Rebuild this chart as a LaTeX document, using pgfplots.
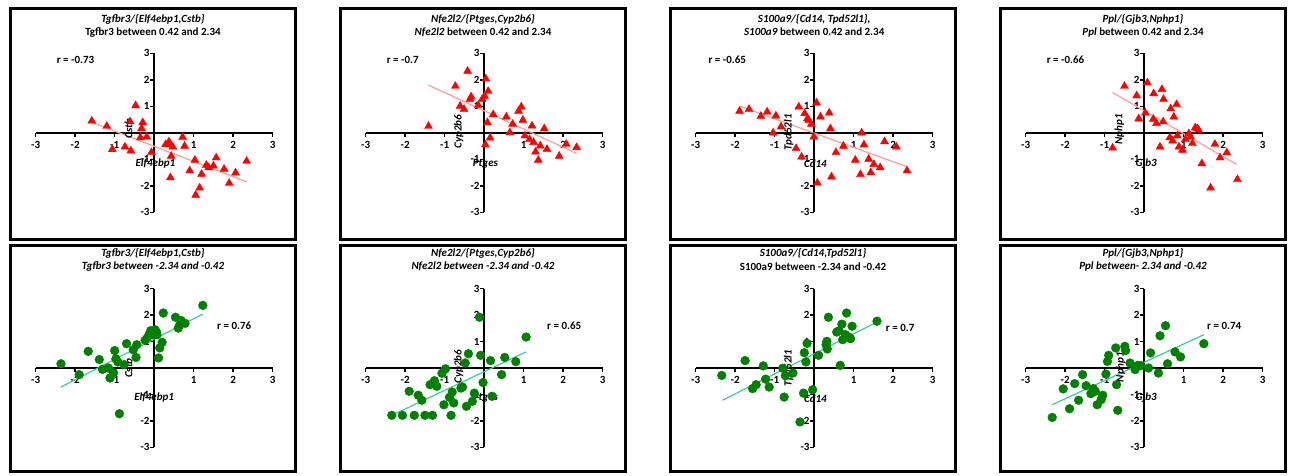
\documentclass[border=0pt]{standalone}
\usepackage{pgfplots}
\pgfplotsset{compat=1.18}
\usepackage{fontspec}
\setmainfont{Carlito}
\definecolor{tri}{RGB}{255,0,0}
\definecolor{pinkline}{RGB}{255,160,160}
\definecolor{dot}{RGB}{0,128,0}
\definecolor{tealline}{RGB}{60,205,155}
\newcommand\fs{\fontsize{11}{13}\selectfont\bfseries}
\pgfplotsset{
 panel/.style={
  scale only axis, width=237pt, anchor=south west,
  xmin=-3,xmax=3,ymin=-3,ymax=3,
  axis lines=center, axis line style={-, line width=1.8pt, black},
  xtick={-3,-2,-1,1,2,3}, ytick={-3,-2,-1,1,2,3},
  xticklabels={-3,-2,-1,1,2,3}, yticklabels={-3,-2,-1,1,2,3},
  tick align=outside, major tick length=4pt,
  tick style={line width=1.5pt, black},
  tick label style={font=\fs},
  yticklabel style={inner xsep=0.5pt},
  xticklabel style={inner ysep=1pt, yshift=-3pt},
  clip=false,
 },
 toprow/.style={panel, height=159pt},
 botrow/.style={panel, height=158.6pt},
 tri/.style={only marks, mark=triangle*, mark size=4.6pt, color=tri},
 dot/.style={only marks, mark=*, mark size=4.4pt, color=dot},
 pfit/.style={no marks, pinkline, line width=1.3pt},
 tfit/.style={no marks, tealline, line width=1.2pt},
}
\begin{document}
\begin{tikzpicture}
\useasboundingbox (0,0) rectangle (1289pt,475pt);
% ---------------- Panel 1 ----------------
\begin{axis}[toprow, at={(35.7pt,262.7pt)}]
\addplot[tri] coordinates {(-1.58,0.45) (-1.20,0.25) (-1.06,-0.63) (-0.74,-0.53) (-0.61,0.42) (-0.59,-0.68) (-0.47,1.03) (-0.32,0.16) (-0.29,0.39) (-0.35,-0.18) (-0.19,-0.15) (-0.07,-0.74) (0.29,-0.44) (0.37,-0.34) (0.41,-0.43) (0.47,-0.53) (0.43,-0.88) (0.41,-1.69) (0.72,-0.16) (0.77,-0.50) (1.03,-1.03) (0.90,-1.43) (1.20,-1.56) (1.15,-2.08) (1.05,-2.35) (1.32,-1.22) (1.38,-1.31) (1.50,-1.25) (1.57,-0.94) (1.77,-1.37) (1.90,-1.90) (2.06,-1.51) (2.34,-1.07)};
\addplot[pfit] coordinates {(-1.62,0.42) (2.34,-1.85)};
\node[font=\fs\itshape] at (axis cs:-0.03,4.29) {Tgfbr3/\{Elf4ebp1,Cstb\}};
\node[font=\fs] at (axis cs:-0.03,3.80) {Tgfbr3 between 0.42 and 2.34};
\node[font=\fs, anchor=west, inner sep=0pt] at (axis cs:-2.47,2.74) {r = -0.73};
\node[font=\fs\itshape] at (axis cs:0.03,-1.17) {Elf4ebp1};
\node[font=\fs\itshape, rotate=90] at (axis cs:-0.65,0.15) {Cstb};
\end{axis}
% ---------------- Panel 2 ----------------
\begin{axis}[toprow, at={(365.7pt,262.7pt)}]
\addplot[tri] coordinates {(-1.41,0.25) (-0.73,1.76) (-0.42,2.33) (-0.61,1.01) (-0.51,0.89) (-0.36,1.27) (-0.33,1.36) (-0.15,1.04) (-0.05,1.27) (0.01,1.38) (0.04,2.04) (0.10,1.57) (0.08,0.39) (0.03,-0.45) (0.15,-0.19) (0.23,0.69) (0.56,0.60) (0.65,0.01) (0.72,0.33) (0.87,0.82) (0.94,0.98) (0.98,0.48) (1.03,-0.11) (1.15,-0.25) (1.21,0.26) (1.25,-0.36) (1.30,-0.72) (1.37,-1.03) (1.42,-0.49) (1.52,0.16) (1.59,-0.62) (1.90,-0.88) (2.08,-0.43) (2.34,-0.55)};
\addplot[pfit] coordinates {(-1.41,1.80) (2.34,-0.78)};
\node[font=\fs\itshape] at (axis cs:-0.03,4.29) {Nfe2l2/\{Ptges,Cyp2b6\}};
\node[font=\fs] at (axis cs:-0.03,3.80) {\textit{Nfe2l2} between 0.42 and 2.34};
\node[font=\fs, anchor=west, inner sep=0pt] at (axis cs:-2.47,2.74) {r = -0.7};
\node[font=\fs\itshape] at (axis cs:0.03,-1.17) {Ptges};
\node[font=\fs\itshape, rotate=90] at (axis cs:-0.65,0.04) {Cyp2b6};
\end{axis}
% ---------------- Panel 3 ----------------
\begin{axis}[toprow, at={(695.7pt,262.7pt)}]
\addplot[tri] coordinates {(-1.89,0.82) (-1.65,0.89) (-1.35,0.63) (-1.19,0.79) (-0.97,0.64) (-1.04,0.00) (-0.84,0.23) (-0.39,0.98) (-0.24,0.73) (-0.17,0.54) (-0.14,0.48) (-0.07,0.33) (0.06,1.13) (0.16,0.60) (0.38,0.75) (0.41,0.16) (-0.01,-0.15) (-0.46,-0.59) (-0.32,-0.91) (0.08,-1.89) (0.44,-1.66) (0.55,-0.74) (0.74,-0.50) (1.04,-1.03) (1.17,-1.57) (1.20,0.00) (1.26,-0.45) (1.38,-0.99) (1.43,-1.50) (1.51,-1.19) (1.67,-1.31) (1.78,-0.33) (2.08,-0.53) (2.35,-1.43)};
\addplot[pfit] coordinates {(-1.89,1.01) (2.35,-1.28)};
\node[font=\fs\itshape] at (axis cs:0,4.29) {S100a9/\{Cd14, Tpd52l1\},};
\node[font=\fs] at (axis cs:0,3.80) {\textit{S100a9} between 0.42 and 2.34};
\node[font=\fs, anchor=west, inner sep=0pt] at (axis cs:-2.68,2.74) {r = -0.65};
\node[font=\fs\itshape] at (axis cs:0.03,-1.17) {Cd14};
\node[font=\fs\itshape, rotate=90] at (axis cs:-0.65,0.02) {Tpd52l1};
\end{axis}
% ---------------- Panel 4 ----------------
\begin{axis}[toprow, at={(1025.7pt,262.7pt)}]
\addplot[tri] coordinates {(-0.80,-0.57) (-0.50,1.76) (-0.19,1.40) (-0.14,0.53) (0.03,0.75) (0.08,1.89) (0.23,0.52) (0.24,1.48) (0.31,0.36) (0.40,-0.53) (0.45,1.64) (0.48,0.42) (0.49,1.27) (0.65,-0.18) (0.67,0.91) (0.72,-0.30) (0.75,0.60) (0.82,1.07) (0.84,-0.11) (0.88,-0.53) (0.97,-0.65) (1.04,-0.25) (1.13,-0.03) (1.17,-0.15) (1.22,-0.40) (1.29,0.19) (1.34,0.16) (1.38,0.10) (1.46,-1.16) (1.68,-2.08) (1.79,-0.43) (1.92,-0.94) (2.09,-0.75) (2.36,-1.76)};
\addplot[pfit] coordinates {(-0.80,1.52) (2.34,-1.19)};
\node[font=\fs\itshape] at (axis cs:-0.03,4.29) {Ppl/\{Gjb3,Nphp1\}};
\node[font=\fs] at (axis cs:-0.03,3.80) {\textit{Ppl} between 0.42 and 2.34};
\node[font=\fs, anchor=west, inner sep=0pt] at (axis cs:-2.47,2.74) {r = -0.66};
\node[font=\fs\itshape] at (axis cs:0.05,-1.17) {Gjb3};
\node[font=\fs\itshape, rotate=90] at (axis cs:-0.63,0.13) {Nphp1};
\end{axis}
% ---------------- Panel 5 ----------------
\begin{axis}[botrow, at={(35.7pt,27.7pt)}]
\addplot[dot] coordinates {(-2.36,0.16) (-1.90,-0.25) (-1.67,0.63) (-1.39,0.32) (-1.31,-0.05) (-1.16,0.00) (-1.12,-0.38) (-1.03,-0.18) (-1.00,0.66) (-0.97,0.35) (-0.92,0.23) (-0.88,-1.73) (-0.76,0.13) (-0.70,0.92) (-0.53,0.69) (-0.46,0.40) (-0.44,0.88) (-0.23,1.05) (-0.17,1.16) (-0.12,1.29) (-0.09,1.41) (-0.05,1.32) (-0.02,1.26) (0.02,1.45) (0.06,1.36) (0.07,1.26) (0.11,0.38) (0.14,0.76) (0.20,0.97) (0.23,2.08) (0.54,1.92) (0.61,1.51) (0.64,1.61) (0.68,1.80) (0.78,1.69) (1.23,2.37)};
\addplot[tfit] coordinates {(-2.36,-0.72) (1.23,2.04)};
\node[font=\fs\itshape] at (axis cs:-0.03,4.33) {Tgfbr3/\{Elf4ebp1,Cstb\}};
\node[font=\fs\itshape] at (axis cs:-0.03,3.84) {Tgfbr3 between -2.34 and -0.42};
\node[font=\fs, anchor=west, inner sep=0pt] at (axis cs:1.59,1.61) {r = 0.76};
\node[font=\fs\itshape] at (axis cs:0.0,-1.12) {Elf4ebp1};
\node[font=\fs\itshape, rotate=90] at (axis cs:-0.65,0.0) {Cstb};
\end{axis}
% ---------------- Panel 6 ----------------
\begin{axis}[botrow, at={(365.7pt,27.7pt)}]
\addplot[dot] coordinates {(-2.34,-1.79) (-2.07,-1.79) (-1.90,-0.88) (-1.77,-1.79) (-1.67,-1.03) (-1.58,-1.22) (-1.50,-1.79) (-1.37,-0.63) (-1.31,-1.79) (-1.26,-0.48) (-1.20,-0.69) (-1.07,-0.20) (-1.02,-1.39) (-0.98,-0.03) (-0.88,-1.11) (-0.84,-1.79) (-0.81,-0.91) (-0.77,-1.32) (-0.59,-0.76) (-0.55,-0.72) (-0.48,0.19) (-0.45,-1.45) (-0.40,0.54) (-0.30,-1.26) (-0.25,-0.95) (-0.12,1.92) (-0.09,0.48) (-0.03,-0.55) (0.16,0.28) (0.20,-1.07) (0.44,-0.25) (0.52,0.40) (0.80,0.24) (1.06,1.17)};
\addplot[tfit] coordinates {(-2.34,-1.79) (1.06,0.61)};
\node[font=\fs\itshape] at (axis cs:-0.03,4.33) {Nfe2l2/\{Ptges,Cyp2b6\}};
\node[font=\fs\itshape] at (axis cs:-0.03,3.84) {Nfe2l2 between -2.34 and -0.42};
\node[font=\fs, anchor=west, inner sep=0pt] at (axis cs:1.59,1.59) {r = 0.65};
\node[font=\fs\itshape] at (axis cs:0.03,-1.12) {Ptges};
\node[font=\fs\itshape, rotate=90] at (axis cs:-0.65,0.05) {Cyp2b6};
\end{axis}
% ---------------- Panel 7 ----------------
\begin{axis}[botrow, at={(695.7pt,27.7pt)}]
\addplot[dot] coordinates {(-2.34,-0.28) (-1.75,0.28) (-1.56,-0.78) (-1.47,-0.63) (-1.29,0.08) (-1.23,-0.42) (-1.14,-0.72) (-0.80,-0.01) (-0.76,-1.10) (-0.73,-0.29) (-0.54,-0.19) (-0.36,-2.04) (-0.27,-0.95) (-0.25,0.58) (-0.21,0.23) (-0.18,0.93) (-0.04,-0.82) (0.11,0.48) (0.30,0.88) (0.32,1.01) (0.33,0.72) (0.36,1.92) (0.57,1.36) (0.63,1.41) (0.66,0.10) (0.70,1.66) (0.72,1.07) (0.79,1.26) (0.82,2.08) (0.88,1.17) (0.92,1.11) (0.96,1.58) (1.59,1.77)};
\addplot[tfit] coordinates {(-2.32,-1.22) (1.59,1.74)};
\node[font=\fs\itshape] at (axis cs:-0.03,4.33) {S100a9/\{Cd14,Tpd52l1\}};
\node[font=\fs] at (axis cs:-0.03,3.84) {S100a9 between -2.34 and -0.42};
\node[font=\fs, anchor=west, inner sep=0pt] at (axis cs:1.81,1.51) {r = 0.7};
\node[font=\fs\itshape] at (axis cs:0.03,-1.16) {Cd14};
\node[font=\fs\itshape, rotate=90] at (axis cs:-0.65,0.0) {Tpd52l1};
\end{axis}
% ---------------- Panel 8 ----------------
\begin{axis}[botrow, at={(1025.7pt,27.7pt)}]
\addplot[dot] coordinates {(-2.33,-1.87) (-2.05,-0.79) (-1.89,-1.54) (-1.76,-0.59) (-1.66,-1.22) (-1.56,-0.25) (-1.47,-0.67) (-1.35,-0.97) (-1.29,-0.78) (-1.24,-0.88) (-1.19,-1.39) (-1.09,-1.20) (-1.05,-1.03) (-0.97,-0.23) (-0.93,0.25) (-0.90,0.48) (-0.72,0.76) (-0.70,-0.63) (-0.67,-1.60) (-0.49,0.82) (-0.47,0.66) (-0.36,0.19) (-0.23,-0.06) (-0.16,0.10) (-0.09,0.09) (0.11,0.00) (0.16,0.57) (0.36,-0.19) (0.40,1.22) (0.54,1.60) (0.59,0.16) (0.78,0.61) (0.92,0.42) (1.51,0.92)};
\addplot[tfit] coordinates {(-2.33,-1.39) (1.51,1.26)};
\node[font=\fs\itshape] at (axis cs:-0.03,4.33) {Ppl/\{Gjb3,Nphp1\}};
\node[font=\fs\itshape] at (axis cs:-0.03,3.84) {Ppl between- 2.34 and -0.42};
\node[font=\fs, anchor=west, inner sep=0pt] at (axis cs:1.59,1.61) {r = 0.74};
\node[font=\fs\itshape] at (axis cs:0.05,-1.13) {Gjb3};
\node[font=\fs\itshape, rotate=90] at (axis cs:-0.60,0.04) {Nphp1};
\end{axis}
% ---------------- Frames ----------------
\foreach \i in {0,1,2,3} {
  \draw[line width=3pt, black] ({10.3pt+330pt*\i},235.3pt) rectangle ({295pt+330pt*\i},466.3pt);
  \draw[line width=3pt, black] ({10.3pt+330pt*\i},3.7pt) rectangle ({295pt+330pt*\i},229.3pt);
}
\end{tikzpicture}
\end{document}
